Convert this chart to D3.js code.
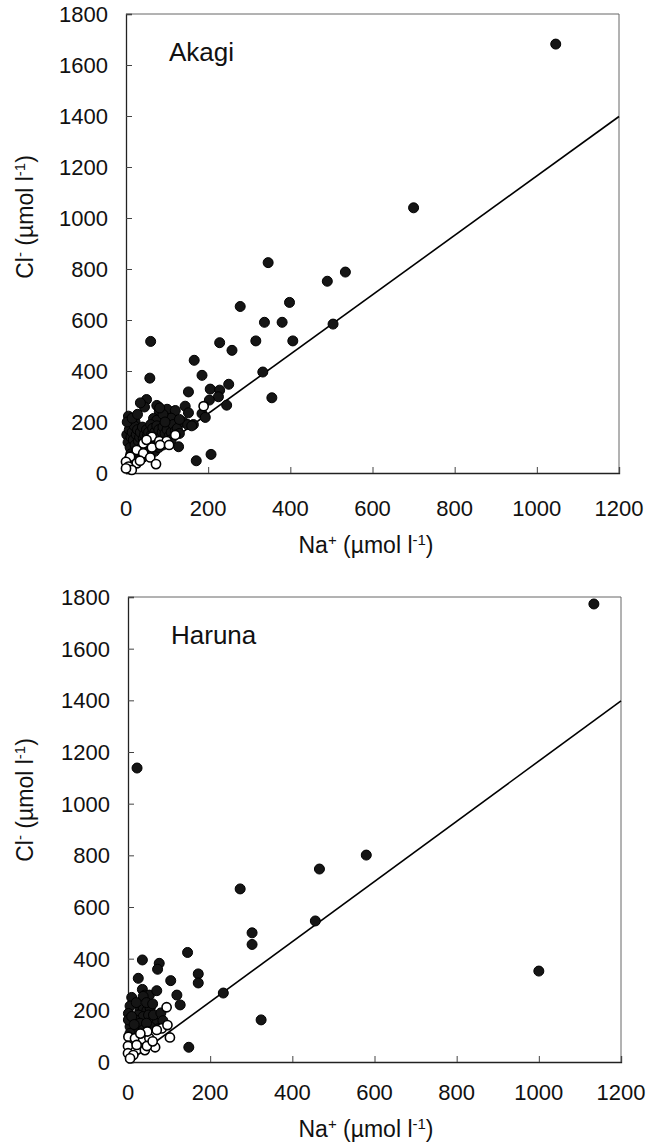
<!DOCTYPE html>
<html>
<head>
<meta charset="utf-8">
<script src="https://cdn.jsdelivr.net/npm/d3@7"></script>
<style>
body{margin:0;background:#fff;}
text{font-family:"Liberation Sans",Arial,sans-serif;fill:#111;}
</style>
</head>
<body>
<div id="chart"></div>
<script>
var W=648, H=1146;

// axis ticks
var xTicks=[0,200,400,600,800,1000,1200];
var yTicks=[0,200,400,600,800,1000,1200,1400,1600,1800];

// seawater Cl/Na ratio line
var lineNa=[0,1200];
var lineCl=[0,1398];

// Akagi: filled = [Na, Cl]
var akagiFilled=[
 [1046,1682],[700,1040],[346,825],[278,653],[398,669],[490,752],[534,788],
 [380,591],[337,591],[504,584],[60,516],[228,511],[316,518],[406,518],[258,481],[166,442],
 [58,372],[185,383],[333,396],[355,295],[152,318],[205,329],[228,325],[225,299],[250,348],
 [203,286],[245,266],[50,288],[45,259],[79,259],[81,240],[103,244],[144,262],[152,236],
 [185,233],[193,218],[164,190],[128,103],[171,48],[207,73],[6,223],[22,201],[67,214],[75,207],
 [100,250],[120,245],[110,215],[90,230],[75,265],[82,255],[35,275],
 [2,150],[5,120],[8,170],[10,100],[12,140],[15,160],[18,130],[20,185],[22,110],[25,150],
 [28,170],[30,125],[33,140],[35,160],[38,100],[40,180],[42,135],[45,150],[48,120],[50,170],
 [52,145],[55,160],[58,130],[60,190],[62,150],[65,175],[68,140],[70,160],[72,120],[75,185],
 [78,150],[80,170],[85,140],[88,160],[90,180],[95,155],[100,170],[105,145],[110,160],[115,190],
 [120,165],[125,175],[130,155],[140,200],[150,190],[160,185],[12,75],[18,60],[25,85],[30,70],
 [40,60],[50,80],[60,95],[70,85],[80,100],[90,110],[100,120],[110,130],[55,110],[65,115],
 [45,95],[35,90],[20,45],[5,40],[8,55],[3,200],[15,215],[28,230],[95,200],[130,210]
];
var akagiOpen=[
 [189,262],[63,142],[81,125],[99,125],[120,149],[42,116],[63,100],[26,90],[42,77],[10,64],
 [59,61],[0,44],[26,38],[6,25],[73,35],[14,12],[0,18],[34,48],[83,110],[50,130],[105,110]
];

// Haruna: filled = [Na, Cl]
var harunaFilled=[
 [1134,1773],[22,1138],[1000,352],[580,801],[466,747],[456,546],[273,670],[302,500],[302,455],
 [324,163],[232,267],[145,424],[171,341],[171,306],[148,57],[35,395],[76,382],[72,359],
 [25,324],[104,315],[35,281],[41,259],[52,259],[37,254],[70,276],[119,259],[127,221],
 [9,250],[5,217],[1,188],[29,201],[37,204],[46,199],[54,208],[25,182],[37,176],[50,182],
 [17,163],[29,150],[62,163],[70,150],[5,137],[17,124],[37,124],[54,137],[1,163],[9,176],
 [62,182],[5,111],[45,230],[20,230],[60,225],[80,190],[85,160],[75,130],[15,145],[45,150]
];
var harunaOpen=[
 [94,212],[82,130],[96,143],[102,95],[66,57],[41,46],[1,98],[17,92],[37,88],[52,92],
 [0,62],[21,66],[46,62],[0,34],[13,27],[5,14],[70,124],[47,118],[30,110],[60,80]
];

var panels=[
 {name:"Akagi", filled:akagiFilled, open:akagiOpen,
  x0:126, x1:619, yTop:14, yBot:473, ylabY:217, dy:0},
 {name:"Haruna", filled:harunaFilled, open:harunaOpen,
  x0:128, x1:621, yTop:597, yBot:1062, ylabY:800, dy:-5}
];

var svg=d3.select("#chart").append("svg")
 .attr("width",W).attr("height",H);

panels.forEach(function(p){
  var x=d3.scaleLinear().domain([0,1200]).range([p.x0,p.x1]);
  var y=d3.scaleLinear().domain([0,1800]).range([p.yBot,p.yTop]);
  var g=svg.append("g");

  // frame (top/right lighter)
  g.append("line").attr("x1",p.x0).attr("x2",p.x1).attr("y1",p.yTop).attr("y2",p.yTop)
   .attr("stroke","#666").attr("stroke-width",1);
  g.append("line").attr("x1",p.x1).attr("x2",p.x1).attr("y1",p.yTop).attr("y2",p.yBot)
   .attr("stroke","#666").attr("stroke-width",1);

  // axes with inward ticks
  var xAxis=d3.axisTop(x).tickValues(xTicks).tickSize(6).tickFormat("");
  var yAxis=d3.axisRight(y).tickValues(yTicks).tickSize(6).tickFormat("");
  g.append("g").attr("transform","translate(0,"+p.yBot+")").call(xAxis)
   .call(function(s){s.select(".domain").attr("stroke","#222").attr("stroke-width",1.3);
     s.selectAll(".tick line").attr("stroke","#444");});
  g.append("g").attr("transform","translate("+p.x0+",0)").call(yAxis)
   .call(function(s){s.select(".domain").attr("stroke","#222").attr("stroke-width",1.3);
     s.selectAll(".tick line").attr("stroke","#444");});

  // tick labels
  g.selectAll(".xl").data(xTicks).enter().append("text")
   .attr("x",function(d){return x(d);}).attr("y",p.yBot+43+p.dy)
   .attr("text-anchor","middle").style("font-size","22px").text(function(d){return d;});
  g.selectAll(".yl").data(yTicks).enter().append("text")
   .attr("x",p.x0-18).attr("y",function(d){return y(d)+8;})
   .attr("text-anchor","end").style("font-size","22px").text(function(d){return d;});

  // seawater line
  g.append("line")
   .attr("x1",x(lineNa[0])).attr("y1",y(lineCl[0]))
   .attr("x2",x(lineNa[1])).attr("y2",y(lineCl[1]))
   .attr("stroke","#000").attr("stroke-width",1.6);

  // points
  g.selectAll(".f").data(p.filled).enter().append("circle")
   .attr("cx",function(d){return x(d[0]);}).attr("cy",function(d){return y(d[1]);})
   .attr("r",5).attr("fill","#151515").attr("stroke","#000").attr("stroke-width",1);
  g.selectAll(".o").data(p.open).enter().append("circle")
   .attr("cx",function(d){return x(d[0]);}).attr("cy",function(d){return y(d[1]);})
   .attr("r",4.6).attr("fill","#fff").attr("stroke","#000").attr("stroke-width",1.6);

  // panel label
  g.append("text").attr("x",p.x0+43).attr("y",p.yTop+47)
   .style("font-size","26px").text(p.name);

  // x axis title
  var xt=g.append("text").attr("x",366).attr("y",p.yBot+80+p.dy)
   .attr("text-anchor","middle").style("font-size","23px");
  xt.append("tspan").text("Na");
  xt.append("tspan").attr("baseline-shift","super").style("font-size","15px").text("+");
  xt.append("tspan").text(" (µmol l");
  xt.append("tspan").attr("baseline-shift","super").style("font-size","15px").text("-1");
  xt.append("tspan").text(")");

  // y axis title
  var yt=g.append("text").attr("transform","translate(33,"+p.ylabY+") rotate(-90)")
   .attr("text-anchor","middle").style("font-size","23px");
  yt.append("tspan").text("Cl");
  yt.append("tspan").attr("baseline-shift","super").style("font-size","15px").text("-");
  yt.append("tspan").text(" (µmol l");
  yt.append("tspan").attr("baseline-shift","super").style("font-size","15px").text("-1");
  yt.append("tspan").text(")");
});
</script>
</body>
</html>
